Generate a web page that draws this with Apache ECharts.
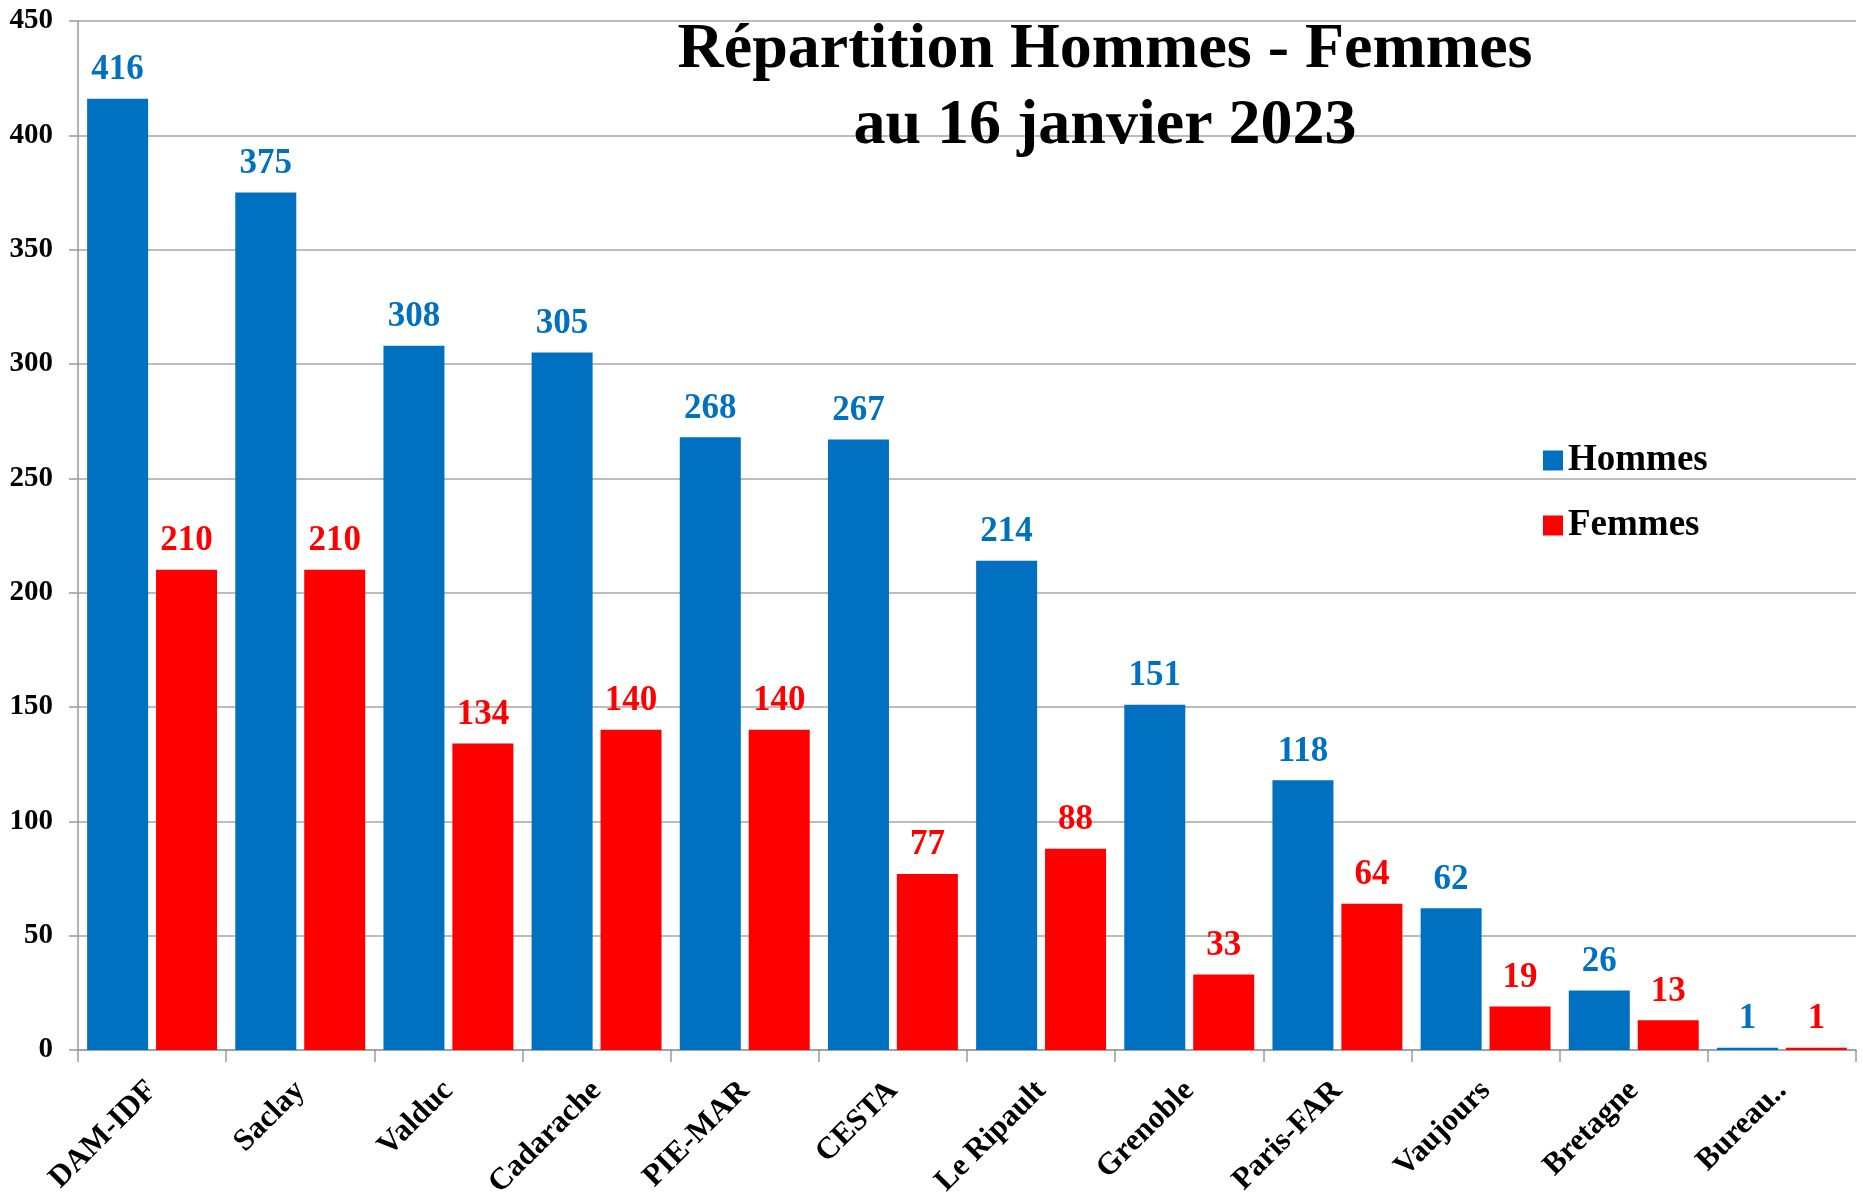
<!DOCTYPE html>
<html>
<head>
<meta charset="utf-8">
<script src="https://cdn.jsdelivr.net/npm/echarts@6/dist/echarts.min.js"></script>
<style>
  html, body { margin: 0; padding: 0; background: #fff; }
  #chart { width: 1863px; height: 1196px; }
</style>
</head>
<body>
<div id="chart"></div>
<script>
const sites = ['DAM-IDF', 'Saclay', 'Valduc', 'Cadarache', 'PIE-MAR', 'CESTA', 'Le Ripault',
  'Grenoble', 'Paris-FAR', 'Vaujours', 'Bretagne', 'Bureau..']
const hommes = [416, 375, 308, 305, 268, 267, 214, 151, 118, 62, 26, 1]
const femmes = [210, 210, 134, 140, 140, 77, 88, 33, 64, 19, 13, 1]

const serif = 'Liberation Serif'
const chart = echarts.init(document.getElementById('chart'))

function labelFor(color) {
  return {
    show: true,
    position: 'top',
    distance: 11,
    color: color,
    fontFamily: serif,
    fontWeight: 'bold',
    fontSize: 35
  }
}

chart.setOption({
  animation: false,
  backgroundColor: '#fff',
  title: {
    text: 'Répartition Hommes - Femmes\nau 16 janvier 2023',
    left: 1100,
    top: 7,
    textAlign: 'center',
    textStyle: {
      fontFamily: serif,
      fontWeight: 'bold',
      fontSize: 64,
      lineHeight: 76,
      color: '#000'
    }
  },
  legend: {
    orient: 'vertical',
    left: 1538,
    top: 437,
    itemWidth: 20,
    itemHeight: 20,
    itemGap: 28,
    icon: 'rect',
    data: ['Hommes', 'Femmes'],
    textStyle: {
      fontFamily: serif,
      fontWeight: 'bold',
      fontSize: 37,
      color: '#000'
    }
  },
  grid: {
    left: 78,
    right: 7,
    top: 21,
    bottom: 146,
    containLabel: false,
    outerBoundsMode: 'none'
  },
  xAxis: {
    type: 'category',
    data: sites,
    axisLine: { lineStyle: { color: '#9a9a9a', width: 1.5 } },
    axisTick: { show: true, length: 12, lineStyle: { color: '#9a9a9a', width: 1.5 } },
    axisLabel: {
      rotate: 45,
      margin: 36,
      color: '#000',
      fontFamily: serif,
      fontWeight: 'bold',
      fontSize: 31
    }
  },
  yAxis: {
    type: 'value',
    min: 0,
    max: 450,
    interval: 50,
    axisLine: { show: true, lineStyle: { color: '#9a9a9a', width: 1.5 } },
    axisTick: { show: true, length: 9, lineStyle: { color: '#9a9a9a', width: 1.5 } },
    splitLine: { lineStyle: { color: '#a6a6a6', width: 1.5 } },
    axisLabel: {
      margin: 25,
      color: '#000',
      fontFamily: serif,
      fontWeight: 'bold',
      fontSize: 29
    }
  },
  series: [
    {
      name: 'Hommes',
      type: 'bar',
      data: hommes,
      barWidth: 61,
      barGap: '13%',
      itemStyle: { color: '#0070c0' },
      label: labelFor('#0070c0')
    },
    {
      name: 'Femmes',
      type: 'bar',
      data: femmes,
      barWidth: 61,
      barGap: '13%',
      itemStyle: { color: '#ff0000' },
      label: labelFor('#ff0000')
    }
  ]
})
</script>
</body>
</html>
